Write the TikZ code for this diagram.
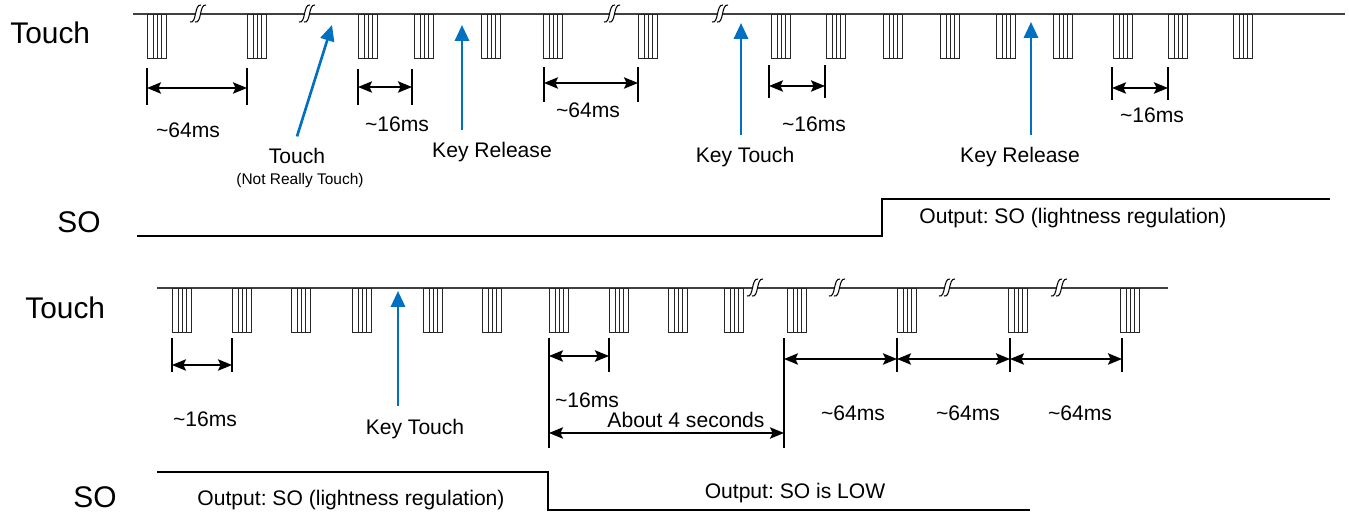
\documentclass[tikz,border=0pt]{standalone}
\usepackage{fontspec}
\setmainfont{Liberation Sans}
\frenchspacing
\usetikzlibrary{arrows.meta}
\definecolor{keyblue}{HTML}{0070C0}
\tikzset{
  wave/.style={black!75,line width=0.6pt},
  pulseline/.style={black!85,line width=0.5pt},
  brkline/.style={black,line width=0.6pt},
  soline/.style={black,line width=1.1pt},
  tick/.style={black,line width=0.6pt},
  dimarrow/.style={{Stealth[length=8pt,width=6.5pt,inset=1.5pt]}-{Stealth[length=8pt,width=6.5pt,inset=1.5pt]},line width=0.8pt},
  keyarrow/.style={-{Triangle[length=9pt,width=8pt]},keyblue,line width=1.5pt},
  lbl/.style={font=\fontsize{12}{14}\selectfont,anchor=base,inner sep=1pt},
  keylbl/.style={lbl,outer sep=6pt},
  sig/.style={font=\fontsize{17}{20}\selectfont,anchor=base west,inner sep=0pt},
  brk/.pic={
    \fill[white] (-3,-1.5) rectangle (3,1.5);
    \draw[brkline] (-8,8) .. controls (-1,10) and (-4,-10) .. (3,-9);
    \draw[brkline] (-3,8) .. controls (4,10) and (1,-10) .. (8,-9);
  },
  tpulse/.pic={
    \draw[pulseline] (0,0) rectangle (19,44);
    \foreach \d in {6,10,14} \draw[pulseline] (\d,0) -- (\d,44);
  }
}
\begin{document}
\begin{tikzpicture}[x=0.02cm,y=-0.02cm]
    \useasboundingbox (0,0) rectangle (1349,513);
    % Touch (top)
    \node[sig] (touchA) at (10,44) {Touch};
    \draw[wave] (133,14) -- (1345,14);
    \foreach \p in {147,247,358,414,481,543,638,771,826,883,940,996,1053,1113,1168,1233}
        \pic at (\p,14) {tpulse};
    \foreach \b in {198,307,612,720}
        \pic at (\b,14) {brk};
    \foreach \xa/\xb/\ya/\yb/\ym/\lx/\ly/\lab [count=\i] in {147/247/68/105/88/188/138/64,358/412/69/105/87/397/132/16,544/638/67/102/83/588/118/64,769/825/65/98/86/814/132/16,1112/1168/67/100/88/1152/123/16}{
        \draw[tick] (\xa,\ya) -- (\xa,\yb);
        \draw[tick] (\xb,\ya) -- (\xb,\yb);
        \coordinate (tl\i) at (\xa,\ym);
        \coordinate (tr\i) at (\xb,\ym);
        \draw[dimarrow] (tl\i) -- (tr\i);
        \node[lbl] (tlab\i) at (\lx,\ly) {\textasciitilde\lab ms};
    }
    % key events (top)
    \node[keylbl] (ntouch) at (297,164) {Touch};
    \node[font=\fontsize{8.8}{10}\selectfont,anchor=base,inner sep=1pt] (nreal) at (300,185) {(Not Really Touch)};
    \coordinate (ntouchtip) at (332,25);
    \draw[keyarrow] (ntouch.north) -- (ntouchtip);
    \node[keylbl] (krelA) at (492,158) {Key Release};
    \coordinate (krelAtip) at (462,25);
    \draw[keyarrow] (krelA.north -| krelAtip) -- (krelAtip);
    \node[keylbl] (ktouchA) at (745,163) {Key Touch};
    \coordinate (ktouchAtip) at (741,23);
    \draw[keyarrow] (ktouchA.north -| ktouchAtip) -- (ktouchAtip);
    \node[keylbl] (krelB) at (1020,163) {Key Release};
    \coordinate (krelBtip) at (1031,22);
    \draw[keyarrow] (krelB.north -| krelBtip) -- (krelBtip);
    % SO (top)
    \node[sig] (soA) at (57,233) {SO};
    \draw[soline] (137,236) -- (882,236) -- (882,199) -- (1330,199);
    \node[lbl] (outA) at (1073,224) {Output: SO (lightness regulation)};
    % Touch (bottom)
    \node[sig] (touchB) at (25,318) {Touch};
    \draw[wave] (157,288) -- (1168,288);
    \foreach \p in {172,232,291,352,423,482,549,609,668,724,787,897,1008,1120}
        \pic at (\p,288) {tpulse};
    \foreach \b in {755,837,947,1059}
        \pic at (\b,288) {brk};
    \foreach \xa/\xb/\ym/\lx/\ly/\lab [count=\i] in {172/232/365/205/426/16,549/609/356/587/407/16,784/897/359/853/420/64,897/1010/359/968/420/64,1010/1122/359/1080/420/64}{
        \draw[tick] (\xa,338) -- (\xa,372);
        \draw[tick] (\xb,338) -- (\xb,372);
        \coordinate (bl\i) at (\xa,\ym);
        \coordinate (br\i) at (\xb,\ym);
        \draw[dimarrow] (bl\i) -- (br\i);
        \node[lbl] (blab\i) at (\lx,\ly) {\textasciitilde\lab ms};
    }
    \draw[tick] (549,338) -- (549,448);
    \draw[tick] (784,338) -- (784,448);
    \coordinate (fourl) at (549,433);
    \coordinate (fourr) at (784,433);
    \draw[dimarrow] (fourl) -- (fourr);
    \node[lbl] (four) at (686,427) {About 4 seconds};
    % key event (bottom)
    \node[keylbl] (ktouchB) at (415,434) {Key Touch};
    \coordinate (ktouchBtip) at (398,291);
    \draw[keyarrow] (ktouchB.north -| ktouchBtip) -- (ktouchBtip);
    % SO (bottom)
    \node[sig] (soB) at (73,507) {SO};
    \draw[soline] (157,472) -- (548,472) -- (548,510) -- (1030,510);
    \node[lbl] (outB) at (351,505) {Output: SO (lightness regulation)};
    \node[lbl] (outC) at (795,498) {Output: SO is LOW};
\end{tikzpicture}
\end{document}
